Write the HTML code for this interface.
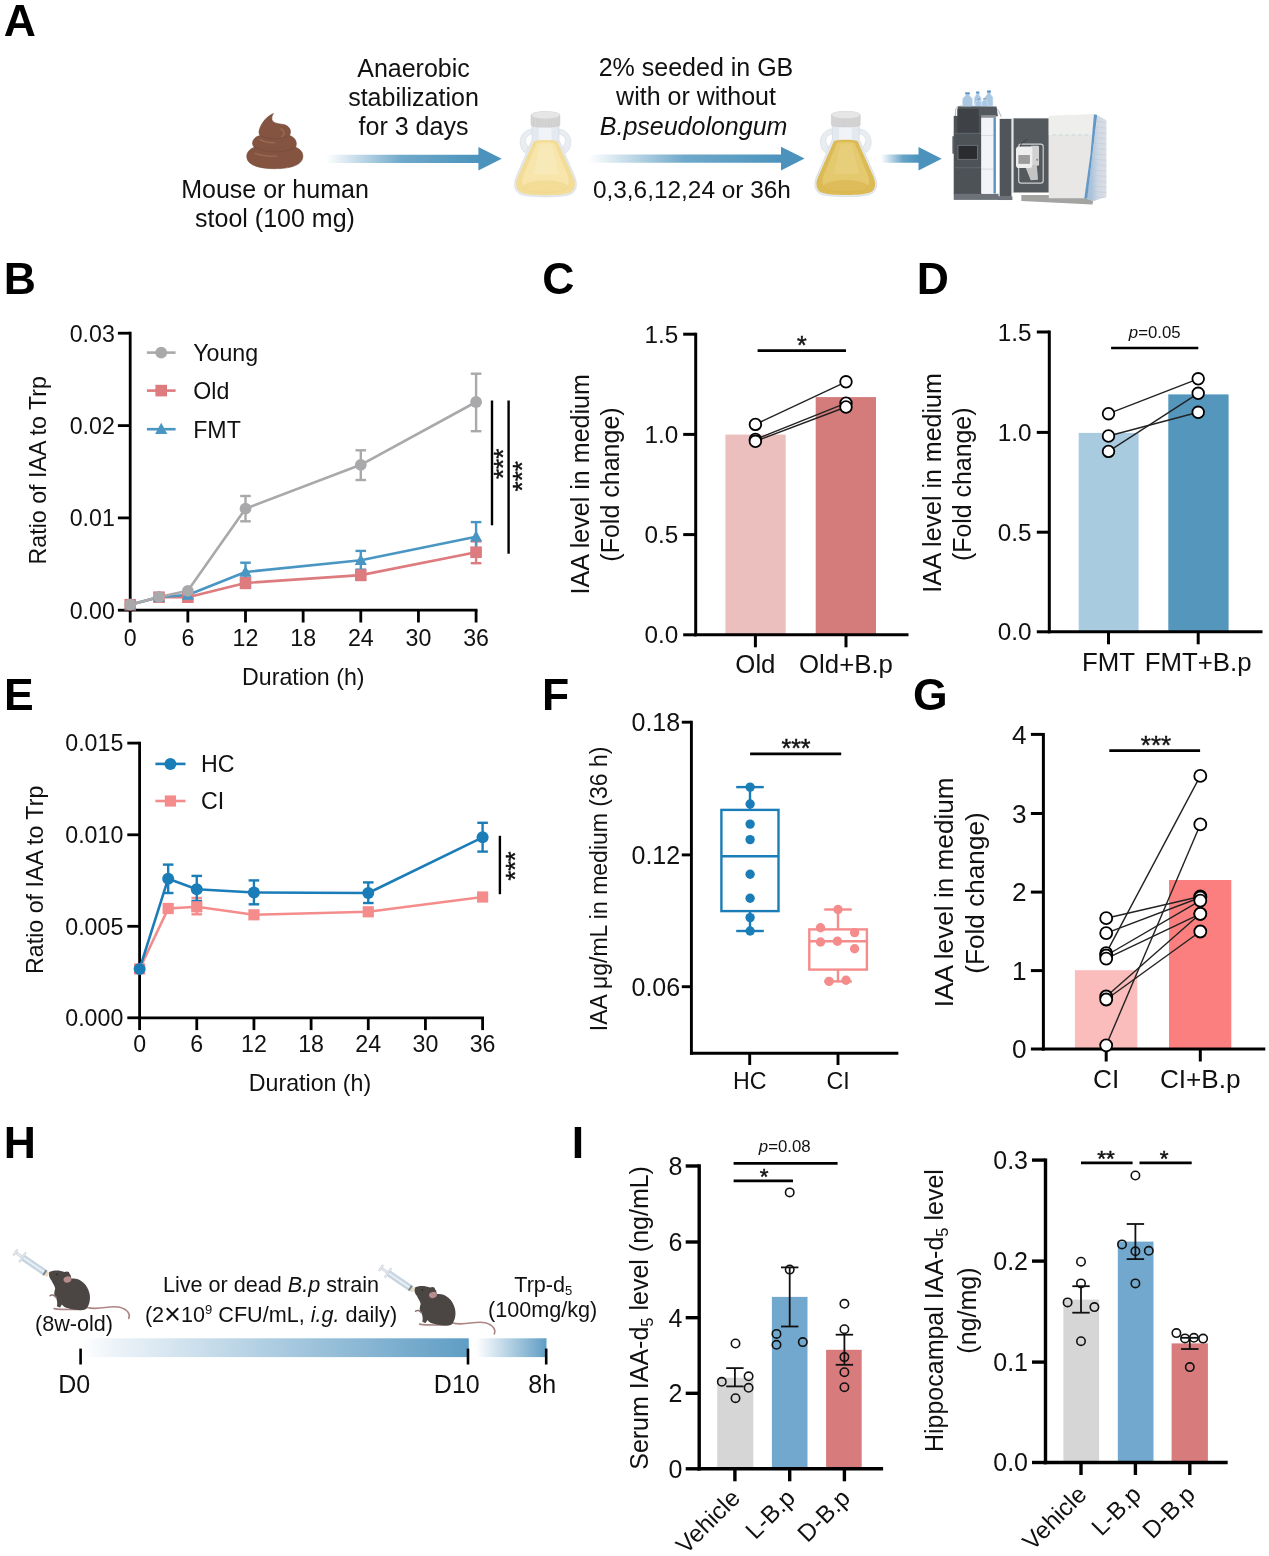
<!DOCTYPE html>
<html><head><meta charset="utf-8"><title>Figure</title>
<style>html,body{margin:0;padding:0;background:#fff}svg{display:block}text{font-family:"Liberation Sans",Arial,sans-serif}</style>
</head><body>
<svg width="1269" height="1556" viewBox="0 0 1269 1556">
<rect width="1269" height="1556" fill="#fff"/>
<defs>
<linearGradient id="garrow" x1="0" x2="1" y1="0" y2="0"><stop offset="0" stop-color="#4b93bd" stop-opacity="0"/><stop offset="0.55" stop-color="#4b93bd" stop-opacity="0.85"/><stop offset="1" stop-color="#4b93bd"/></linearGradient>
<linearGradient id="gbar" x1="0" x2="1" y1="0" y2="0"><stop offset="0" stop-color="#ffffff"/><stop offset="1" stop-color="#5e9cc2"/></linearGradient>
</defs>
<text x="3.8" y="35.5" font-size="44.5" text-anchor="start" font-weight="bold" font-style="normal" fill="#000" >A</text>
<text x="3.8" y="294.4" font-size="44.5" text-anchor="start" font-weight="bold" font-style="normal" fill="#000" >B</text>
<text x="542.2" y="294.4" font-size="44.5" text-anchor="start" font-weight="bold" font-style="normal" fill="#000" >C</text>
<text x="916.7" y="294.2" font-size="44.5" text-anchor="start" font-weight="bold" font-style="normal" fill="#000" >D</text>
<text x="4.1" y="710" font-size="44.5" text-anchor="start" font-weight="bold" font-style="normal" fill="#000" >E</text>
<text x="542.1" y="710" font-size="44.5" text-anchor="start" font-weight="bold" font-style="normal" fill="#000" >F</text>
<text x="913" y="710" font-size="44.5" text-anchor="start" font-weight="bold" font-style="normal" fill="#000" >G</text>
<text x="3.8" y="1158" font-size="44.5" text-anchor="start" font-weight="bold" font-style="normal" fill="#000" >H</text>
<text x="571.8" y="1158" font-size="44.5" text-anchor="start" font-weight="bold" font-style="normal" fill="#000" >I</text>
<line x1="130.2" y1="331.8" x2="130.2" y2="611.6" stroke="#000" stroke-width="2.8" stroke-linecap="butt"/>
<line x1="128.79999999999998" y1="610.2" x2="477.5" y2="610.2" stroke="#000" stroke-width="2.8" stroke-linecap="butt"/>
<line x1="117.89999999999999" y1="610.2" x2="130.2" y2="610.2" stroke="#000" stroke-width="2.8" stroke-linecap="butt"/>
<text x="114.79999999999998" y="618.5056000000001" font-size="23.2" text-anchor="end" font-weight="normal" font-style="normal" fill="#111" >0.00</text>
<line x1="117.89999999999999" y1="517.9" x2="130.2" y2="517.9" stroke="#000" stroke-width="2.8" stroke-linecap="butt"/>
<text x="114.79999999999998" y="526.2056" font-size="23.2" text-anchor="end" font-weight="normal" font-style="normal" fill="#111" >0.01</text>
<line x1="117.89999999999999" y1="425.6" x2="130.2" y2="425.6" stroke="#000" stroke-width="2.8" stroke-linecap="butt"/>
<text x="114.79999999999998" y="433.90560000000005" font-size="23.2" text-anchor="end" font-weight="normal" font-style="normal" fill="#111" >0.02</text>
<line x1="117.89999999999999" y1="333.2" x2="130.2" y2="333.2" stroke="#000" stroke-width="2.8" stroke-linecap="butt"/>
<text x="114.79999999999998" y="341.5056" font-size="23.2" text-anchor="end" font-weight="normal" font-style="normal" fill="#111" >0.03</text>
<line x1="130.2" y1="610.2" x2="130.2" y2="622.5" stroke="#000" stroke-width="2.8" stroke-linecap="butt"/>
<text x="130.2" y="646.3" font-size="23.2" text-anchor="middle" font-weight="normal" font-style="normal" fill="#111" >0</text>
<line x1="187.84799999999998" y1="610.2" x2="187.84799999999998" y2="622.5" stroke="#000" stroke-width="2.8" stroke-linecap="butt"/>
<text x="187.84799999999998" y="646.3" font-size="23.2" text-anchor="middle" font-weight="normal" font-style="normal" fill="#111" >6</text>
<line x1="245.49599999999998" y1="610.2" x2="245.49599999999998" y2="622.5" stroke="#000" stroke-width="2.8" stroke-linecap="butt"/>
<text x="245.49599999999998" y="646.3" font-size="23.2" text-anchor="middle" font-weight="normal" font-style="normal" fill="#111" >12</text>
<line x1="303.144" y1="610.2" x2="303.144" y2="622.5" stroke="#000" stroke-width="2.8" stroke-linecap="butt"/>
<text x="303.144" y="646.3" font-size="23.2" text-anchor="middle" font-weight="normal" font-style="normal" fill="#111" >18</text>
<line x1="360.79200000000003" y1="610.2" x2="360.79200000000003" y2="622.5" stroke="#000" stroke-width="2.8" stroke-linecap="butt"/>
<text x="360.79200000000003" y="646.3" font-size="23.2" text-anchor="middle" font-weight="normal" font-style="normal" fill="#111" >24</text>
<line x1="418.44" y1="610.2" x2="418.44" y2="622.5" stroke="#000" stroke-width="2.8" stroke-linecap="butt"/>
<text x="418.44" y="646.3" font-size="23.2" text-anchor="middle" font-weight="normal" font-style="normal" fill="#111" >30</text>
<line x1="476.088" y1="610.2" x2="476.088" y2="622.5" stroke="#000" stroke-width="2.8" stroke-linecap="butt"/>
<text x="476.088" y="646.3" font-size="23.2" text-anchor="middle" font-weight="normal" font-style="normal" fill="#111" >36</text>
<text x="303.3" y="684.5" font-size="23.2" text-anchor="middle" font-weight="normal" font-style="normal" fill="#111" >Duration (h)</text>
<text x="46.2" y="470.3" font-size="23.2" text-anchor="middle" font-weight="normal" font-style="normal" fill="#111" transform="rotate(-90 46.2 470.3)" >Ratio of IAA to Trp</text>
<line x1="245.49599999999998" y1="578" x2="245.49599999999998" y2="588" stroke="#dd7b7f" stroke-width="2.4" stroke-linecap="butt"/>
<line x1="240.19599999999997" y1="578" x2="250.796" y2="578" stroke="#dd7b7f" stroke-width="2.4" stroke-linecap="butt"/>
<line x1="240.19599999999997" y1="588" x2="250.796" y2="588" stroke="#dd7b7f" stroke-width="2.4" stroke-linecap="butt"/>
<line x1="360.79200000000003" y1="570" x2="360.79200000000003" y2="580" stroke="#dd7b7f" stroke-width="2.4" stroke-linecap="butt"/>
<line x1="355.492" y1="570" x2="366.09200000000004" y2="570" stroke="#dd7b7f" stroke-width="2.4" stroke-linecap="butt"/>
<line x1="355.492" y1="580" x2="366.09200000000004" y2="580" stroke="#dd7b7f" stroke-width="2.4" stroke-linecap="butt"/>
<line x1="476.088" y1="541.4" x2="476.088" y2="563.2" stroke="#dd7b7f" stroke-width="2.4" stroke-linecap="butt"/>
<line x1="470.788" y1="541.4" x2="481.38800000000003" y2="541.4" stroke="#dd7b7f" stroke-width="2.4" stroke-linecap="butt"/>
<line x1="470.788" y1="563.2" x2="481.38800000000003" y2="563.2" stroke="#dd7b7f" stroke-width="2.4" stroke-linecap="butt"/>
<line x1="245.49599999999998" y1="562.7" x2="245.49599999999998" y2="581.3" stroke="#4a96c3" stroke-width="2.4" stroke-linecap="butt"/>
<line x1="240.19599999999997" y1="562.7" x2="250.796" y2="562.7" stroke="#4a96c3" stroke-width="2.4" stroke-linecap="butt"/>
<line x1="240.19599999999997" y1="581.3" x2="250.796" y2="581.3" stroke="#4a96c3" stroke-width="2.4" stroke-linecap="butt"/>
<line x1="360.79200000000003" y1="550.9" x2="360.79200000000003" y2="569.7" stroke="#4a96c3" stroke-width="2.4" stroke-linecap="butt"/>
<line x1="355.492" y1="550.9" x2="366.09200000000004" y2="550.9" stroke="#4a96c3" stroke-width="2.4" stroke-linecap="butt"/>
<line x1="355.492" y1="569.7" x2="366.09200000000004" y2="569.7" stroke="#4a96c3" stroke-width="2.4" stroke-linecap="butt"/>
<line x1="476.088" y1="522.1" x2="476.088" y2="551.3" stroke="#4a96c3" stroke-width="2.4" stroke-linecap="butt"/>
<line x1="470.788" y1="522.1" x2="481.38800000000003" y2="522.1" stroke="#4a96c3" stroke-width="2.4" stroke-linecap="butt"/>
<line x1="470.788" y1="551.3" x2="481.38800000000003" y2="551.3" stroke="#4a96c3" stroke-width="2.4" stroke-linecap="butt"/>
<line x1="245.49599999999998" y1="496" x2="245.49599999999998" y2="521.3" stroke="#a9a9ab" stroke-width="2.4" stroke-linecap="butt"/>
<line x1="240.19599999999997" y1="496" x2="250.796" y2="496" stroke="#a9a9ab" stroke-width="2.4" stroke-linecap="butt"/>
<line x1="240.19599999999997" y1="521.3" x2="250.796" y2="521.3" stroke="#a9a9ab" stroke-width="2.4" stroke-linecap="butt"/>
<line x1="360.79200000000003" y1="450.3" x2="360.79200000000003" y2="480" stroke="#a9a9ab" stroke-width="2.4" stroke-linecap="butt"/>
<line x1="355.492" y1="450.3" x2="366.09200000000004" y2="450.3" stroke="#a9a9ab" stroke-width="2.4" stroke-linecap="butt"/>
<line x1="355.492" y1="480" x2="366.09200000000004" y2="480" stroke="#a9a9ab" stroke-width="2.4" stroke-linecap="butt"/>
<line x1="476.088" y1="373.7" x2="476.088" y2="431.2" stroke="#a9a9ab" stroke-width="2.4" stroke-linecap="butt"/>
<line x1="470.788" y1="373.7" x2="481.38800000000003" y2="373.7" stroke="#a9a9ab" stroke-width="2.4" stroke-linecap="butt"/>
<line x1="470.788" y1="431.2" x2="481.38800000000003" y2="431.2" stroke="#a9a9ab" stroke-width="2.4" stroke-linecap="butt"/>
<polyline points="130.2,604.7 159.0,597.2 187.8,597.2 245.5,583 360.8,575.1 476.1,552.2" fill="none" stroke="#dd7b7f" stroke-width="2.6" stroke-linejoin="round"/>
<polyline points="130.2,604.7 159.0,596.9 187.8,595 245.5,572 360.8,560.3 476.1,536.7" fill="none" stroke="#4a96c3" stroke-width="2.6" stroke-linejoin="round"/>
<polyline points="130.2,604.7 159.0,596.9 187.8,590.8 245.5,508.7 360.8,464.8 476.1,402" fill="none" stroke="#a9a9ab" stroke-width="2.6" stroke-linejoin="round"/>
<rect x="124.39999999999999" y="598.9000000000001" width="11.6" height="11.6" fill="#dd7b7f" stroke="none" stroke-width="0" rx="0"/>
<rect x="153.224" y="591.4000000000001" width="11.6" height="11.6" fill="#dd7b7f" stroke="none" stroke-width="0" rx="0"/>
<rect x="182.04799999999997" y="591.4000000000001" width="11.6" height="11.6" fill="#dd7b7f" stroke="none" stroke-width="0" rx="0"/>
<rect x="239.69599999999997" y="577.2" width="11.6" height="11.6" fill="#dd7b7f" stroke="none" stroke-width="0" rx="0"/>
<rect x="354.992" y="569.3000000000001" width="11.6" height="11.6" fill="#dd7b7f" stroke="none" stroke-width="0" rx="0"/>
<rect x="470.288" y="546.4000000000001" width="11.6" height="11.6" fill="#dd7b7f" stroke="none" stroke-width="0" rx="0"/>
<polygon points="130.2,598.3000000000001 124.11999999999999,609.5 136.28,609.5" fill="#4a96c3"/>
<polygon points="159.024,590.5 152.944,601.6999999999999 165.104,601.6999999999999" fill="#4a96c3"/>
<polygon points="187.84799999999998,588.6 181.76799999999997,599.8 193.928,599.8" fill="#4a96c3"/>
<polygon points="245.49599999999998,565.6 239.41599999999997,576.8 251.576,576.8" fill="#4a96c3"/>
<polygon points="360.79200000000003,553.9 354.71200000000005,565.0999999999999 366.872,565.0999999999999" fill="#4a96c3"/>
<polygon points="476.088,530.3000000000001 470.00800000000004,541.5 482.168,541.5" fill="#4a96c3"/>
<circle cx="130.2" cy="604.7" r="5.9" fill="#a9a9ab" stroke="none" stroke-width="0"/>
<circle cx="159.024" cy="596.9" r="5.9" fill="#a9a9ab" stroke="none" stroke-width="0"/>
<circle cx="187.84799999999998" cy="590.8" r="5.9" fill="#a9a9ab" stroke="none" stroke-width="0"/>
<circle cx="245.49599999999998" cy="508.7" r="5.9" fill="#a9a9ab" stroke="none" stroke-width="0"/>
<circle cx="360.79200000000003" cy="464.8" r="5.9" fill="#a9a9ab" stroke="none" stroke-width="0"/>
<circle cx="476.088" cy="402" r="5.9" fill="#a9a9ab" stroke="none" stroke-width="0"/>
<line x1="146.9" y1="352.6" x2="175.6" y2="352.6" stroke="#a9a9ab" stroke-width="2.6" stroke-linecap="butt"/>
<circle cx="161.2" cy="352.6" r="5.9" fill="#a9a9ab" stroke="none" stroke-width="0"/>
<text x="193.2" y="360.90000000000003" font-size="23.2" text-anchor="start" font-weight="normal" font-style="normal" fill="#111" >Young</text>
<line x1="146.9" y1="390.6" x2="175.6" y2="390.6" stroke="#dd7b7f" stroke-width="2.6" stroke-linecap="butt"/>
<rect x="155.39999999999998" y="384.8" width="11.6" height="11.6" fill="#dd7b7f" stroke="none" stroke-width="0" rx="0"/>
<text x="193.2" y="398.90000000000003" font-size="23.2" text-anchor="start" font-weight="normal" font-style="normal" fill="#111" >Old</text>
<line x1="146.9" y1="429.2" x2="175.6" y2="429.2" stroke="#4a96c3" stroke-width="2.6" stroke-linecap="butt"/>
<polygon points="161.2,422.8 155.11999999999998,434.0 167.28,434.0" fill="#4a96c3"/>
<text x="193.2" y="437.5" font-size="23.2" text-anchor="start" font-weight="normal" font-style="normal" fill="#111" >FMT</text>
<line x1="492" y1="400.5" x2="492" y2="525.3" stroke="#000" stroke-width="2.4" stroke-linecap="butt"/>
<line x1="508.6" y1="400.5" x2="508.6" y2="553.7" stroke="#000" stroke-width="2.4" stroke-linecap="butt"/>
<text x="512.5" y="463.9" font-size="26" text-anchor="middle" fill="#111" stroke="#111" stroke-width="0.45" transform="rotate(-90 512.5 463.9)">***</text>
<text x="531.5" y="476.2" font-size="26" text-anchor="middle" fill="#111" stroke="#111" stroke-width="0.45" transform="rotate(-90 531.5 476.2)">***</text>
<rect x="725.4" y="434.6" width="60.30000000000007" height="200.19999999999993" fill="#ebbfbd" stroke="none" stroke-width="0" rx="0"/>
<rect x="815.7" y="397.1" width="60.299999999999955" height="237.69999999999993" fill="#d47b7b" stroke="none" stroke-width="0" rx="0"/>
<line x1="695.7" y1="332.7" x2="695.7" y2="636.3" stroke="#000" stroke-width="3.0" stroke-linecap="butt"/>
<line x1="694.2" y1="634.8" x2="908.5" y2="634.8" stroke="#000" stroke-width="3.0" stroke-linecap="butt"/>
<line x1="683.2" y1="634.8" x2="695.7" y2="634.8" stroke="#000" stroke-width="3.0" stroke-linecap="butt"/>
<text x="678.3000000000001" y="643.4993999999999" font-size="24.3" text-anchor="end" font-weight="normal" font-style="normal" fill="#111" >0.0</text>
<line x1="683.2" y1="534.6" x2="695.7" y2="534.6" stroke="#000" stroke-width="3.0" stroke-linecap="butt"/>
<text x="678.3000000000001" y="543.2994" font-size="24.3" text-anchor="end" font-weight="normal" font-style="normal" fill="#111" >0.5</text>
<line x1="683.2" y1="434.4" x2="695.7" y2="434.4" stroke="#000" stroke-width="3.0" stroke-linecap="butt"/>
<text x="678.3000000000001" y="443.0994" font-size="24.3" text-anchor="end" font-weight="normal" font-style="normal" fill="#111" >1.0</text>
<line x1="683.2" y1="334.2" x2="695.7" y2="334.2" stroke="#000" stroke-width="3.0" stroke-linecap="butt"/>
<text x="678.3000000000001" y="342.8994" font-size="24.3" text-anchor="end" font-weight="normal" font-style="normal" fill="#111" >1.5</text>
<line x1="755.4" y1="634.8" x2="755.4" y2="647.3" stroke="#000" stroke-width="3.0" stroke-linecap="butt"/>
<text x="755.4" y="673.3" font-size="25.8" text-anchor="middle" font-weight="normal" font-style="normal" fill="#111" >Old</text>
<line x1="846" y1="634.8" x2="846" y2="647.3" stroke="#000" stroke-width="3.0" stroke-linecap="butt"/>
<text x="846" y="673.3" font-size="25.8" text-anchor="middle" font-weight="normal" font-style="normal" fill="#111" >Old+B.p</text>
<text x="588.6" y="484.2" font-size="25.1" text-anchor="middle" font-weight="normal" font-style="normal" fill="#111" transform="rotate(-90 588.6 484.2)" >IAA level in medium</text>
<text x="619" y="484.5" font-size="25.0" text-anchor="middle" font-weight="normal" font-style="normal" fill="#111" transform="rotate(-90 619 484.5)" >(Fold change)</text>
<line x1="755.4" y1="424.4" x2="846" y2="381.8" stroke="#222" stroke-width="1.4" stroke-linecap="butt"/>
<line x1="755.4" y1="439.4" x2="846" y2="403.2" stroke="#222" stroke-width="1.4" stroke-linecap="butt"/>
<line x1="755.4" y1="441.3" x2="846" y2="407" stroke="#222" stroke-width="1.4" stroke-linecap="butt"/>
<circle cx="755.4" cy="424.4" r="5.8" fill="#fff" stroke="#000" stroke-width="1.8"/>
<circle cx="846" cy="381.8" r="5.8" fill="#fff" stroke="#000" stroke-width="1.8"/>
<circle cx="755.4" cy="439.4" r="5.8" fill="#fff" stroke="#000" stroke-width="1.8"/>
<circle cx="846" cy="403.2" r="5.8" fill="#fff" stroke="#000" stroke-width="1.8"/>
<circle cx="755.4" cy="441.3" r="5.8" fill="#fff" stroke="#000" stroke-width="1.8"/>
<circle cx="846" cy="407" r="5.8" fill="#fff" stroke="#000" stroke-width="1.8"/>
<line x1="757.6" y1="350.7" x2="846" y2="350.7" stroke="#000" stroke-width="2.7" stroke-linecap="butt"/>
<text x="801.8" y="353.7" font-size="25" text-anchor="middle" fill="#111" stroke="#111" stroke-width="0.45">*</text>
<rect x="1078.7" y="432.9" width="59.899999999999864" height="198.89999999999998" fill="#a9cbdf" stroke="none" stroke-width="0" rx="0"/>
<rect x="1168.3" y="394.4" width="60.299999999999955" height="237.39999999999998" fill="#5596bd" stroke="none" stroke-width="0" rx="0"/>
<line x1="1049.3" y1="330.5" x2="1049.3" y2="633.3" stroke="#000" stroke-width="3.0" stroke-linecap="butt"/>
<line x1="1047.8" y1="631.8" x2="1262.5" y2="631.8" stroke="#000" stroke-width="3.0" stroke-linecap="butt"/>
<line x1="1036.8" y1="631.8" x2="1049.3" y2="631.8" stroke="#000" stroke-width="3.0" stroke-linecap="butt"/>
<text x="1031.6" y="640.4993999999999" font-size="24.3" text-anchor="end" font-weight="normal" font-style="normal" fill="#111" >0.0</text>
<line x1="1036.8" y1="532.2" x2="1049.3" y2="532.2" stroke="#000" stroke-width="3.0" stroke-linecap="butt"/>
<text x="1031.6" y="540.8994" font-size="24.3" text-anchor="end" font-weight="normal" font-style="normal" fill="#111" >0.5</text>
<line x1="1036.8" y1="432.4" x2="1049.3" y2="432.4" stroke="#000" stroke-width="3.0" stroke-linecap="butt"/>
<text x="1031.6" y="441.0994" font-size="24.3" text-anchor="end" font-weight="normal" font-style="normal" fill="#111" >1.0</text>
<line x1="1036.8" y1="332" x2="1049.3" y2="332" stroke="#000" stroke-width="3.0" stroke-linecap="butt"/>
<text x="1031.6" y="340.6994" font-size="24.3" text-anchor="end" font-weight="normal" font-style="normal" fill="#111" >1.5</text>
<line x1="1108.5" y1="631.8" x2="1108.5" y2="644.3" stroke="#000" stroke-width="3.0" stroke-linecap="butt"/>
<text x="1108.5" y="670.5" font-size="25.8" text-anchor="middle" font-weight="normal" font-style="normal" fill="#111" >FMT</text>
<line x1="1198.2" y1="631.8" x2="1198.2" y2="644.3" stroke="#000" stroke-width="3.0" stroke-linecap="butt"/>
<text x="1198.2" y="670.5" font-size="25.8" text-anchor="middle" font-weight="normal" font-style="normal" fill="#111" >FMT+B.p</text>
<text x="940.7" y="483" font-size="25.0" text-anchor="middle" font-weight="normal" font-style="normal" fill="#111" transform="rotate(-90 940.7 483)" >IAA level in medium</text>
<text x="971.3" y="484.3" font-size="24.9" text-anchor="middle" font-weight="normal" font-style="normal" fill="#111" transform="rotate(-90 971.3 484.3)" >(Fold change)</text>
<line x1="1108.5" y1="413.7" x2="1198.2" y2="378.8" stroke="#222" stroke-width="1.4" stroke-linecap="butt"/>
<line x1="1108.5" y1="436" x2="1198.2" y2="412.3" stroke="#222" stroke-width="1.4" stroke-linecap="butt"/>
<line x1="1108.5" y1="451.4" x2="1198.2" y2="393.3" stroke="#222" stroke-width="1.4" stroke-linecap="butt"/>
<circle cx="1108.5" cy="413.7" r="5.8" fill="#fff" stroke="#000" stroke-width="1.8"/>
<circle cx="1198.2" cy="378.8" r="5.8" fill="#fff" stroke="#000" stroke-width="1.8"/>
<circle cx="1108.5" cy="436" r="5.8" fill="#fff" stroke="#000" stroke-width="1.8"/>
<circle cx="1198.2" cy="412.3" r="5.8" fill="#fff" stroke="#000" stroke-width="1.8"/>
<circle cx="1108.5" cy="451.4" r="5.8" fill="#fff" stroke="#000" stroke-width="1.8"/>
<circle cx="1198.2" cy="393.3" r="5.8" fill="#fff" stroke="#000" stroke-width="1.8"/>
<line x1="1111.1" y1="348" x2="1198.3" y2="348" stroke="#000" stroke-width="2.7" stroke-linecap="butt"/>
<text x="1154.7" y="337.5" font-size="16.8" text-anchor="middle" fill="#111"><tspan font-style="italic">p</tspan>=0.05</text>
<line x1="139.6" y1="741.7" x2="139.6" y2="1019.1999999999999" stroke="#000" stroke-width="2.8" stroke-linecap="butt"/>
<line x1="138.2" y1="1017.8" x2="484.0" y2="1017.8" stroke="#000" stroke-width="2.8" stroke-linecap="butt"/>
<line x1="127.3" y1="1017.8" x2="139.6" y2="1017.8" stroke="#000" stroke-width="2.8" stroke-linecap="butt"/>
<text x="123.3" y="1026.1055999999999" font-size="23.2" text-anchor="end" font-weight="normal" font-style="normal" fill="#111" >0.000</text>
<line x1="127.3" y1="926.3" x2="139.6" y2="926.3" stroke="#000" stroke-width="2.8" stroke-linecap="butt"/>
<text x="123.3" y="934.6056" font-size="23.2" text-anchor="end" font-weight="normal" font-style="normal" fill="#111" >0.005</text>
<line x1="127.3" y1="834.8" x2="139.6" y2="834.8" stroke="#000" stroke-width="2.8" stroke-linecap="butt"/>
<text x="123.3" y="843.1056" font-size="23.2" text-anchor="end" font-weight="normal" font-style="normal" fill="#111" >0.010</text>
<line x1="127.3" y1="743.1" x2="139.6" y2="743.1" stroke="#000" stroke-width="2.8" stroke-linecap="butt"/>
<text x="123.3" y="751.4056" font-size="23.2" text-anchor="end" font-weight="normal" font-style="normal" fill="#111" >0.015</text>
<line x1="139.6" y1="1017.8" x2="139.6" y2="1030.1" stroke="#000" stroke-width="2.8" stroke-linecap="butt"/>
<text x="139.6" y="1052.2" font-size="23.2" text-anchor="middle" font-weight="normal" font-style="normal" fill="#111" >0</text>
<line x1="196.76666666666665" y1="1017.8" x2="196.76666666666665" y2="1030.1" stroke="#000" stroke-width="2.8" stroke-linecap="butt"/>
<text x="196.76666666666665" y="1052.2" font-size="23.2" text-anchor="middle" font-weight="normal" font-style="normal" fill="#111" >6</text>
<line x1="253.93333333333334" y1="1017.8" x2="253.93333333333334" y2="1030.1" stroke="#000" stroke-width="2.8" stroke-linecap="butt"/>
<text x="253.93333333333334" y="1052.2" font-size="23.2" text-anchor="middle" font-weight="normal" font-style="normal" fill="#111" >12</text>
<line x1="311.1" y1="1017.8" x2="311.1" y2="1030.1" stroke="#000" stroke-width="2.8" stroke-linecap="butt"/>
<text x="311.1" y="1052.2" font-size="23.2" text-anchor="middle" font-weight="normal" font-style="normal" fill="#111" >18</text>
<line x1="368.26666666666665" y1="1017.8" x2="368.26666666666665" y2="1030.1" stroke="#000" stroke-width="2.8" stroke-linecap="butt"/>
<text x="368.26666666666665" y="1052.2" font-size="23.2" text-anchor="middle" font-weight="normal" font-style="normal" fill="#111" >24</text>
<line x1="425.4333333333333" y1="1017.8" x2="425.4333333333333" y2="1030.1" stroke="#000" stroke-width="2.8" stroke-linecap="butt"/>
<text x="425.4333333333333" y="1052.2" font-size="23.2" text-anchor="middle" font-weight="normal" font-style="normal" fill="#111" >30</text>
<line x1="482.6" y1="1017.8" x2="482.6" y2="1030.1" stroke="#000" stroke-width="2.8" stroke-linecap="butt"/>
<text x="482.6" y="1052.2" font-size="23.2" text-anchor="middle" font-weight="normal" font-style="normal" fill="#111" >36</text>
<text x="310" y="1091" font-size="23.2" text-anchor="middle" font-weight="normal" font-style="normal" fill="#111" >Duration (h)</text>
<text x="43.3" y="879.8" font-size="23.2" text-anchor="middle" font-weight="normal" font-style="normal" fill="#111" transform="rotate(-90 43.3 879.8)" >Ratio of IAA to Trp</text>
<line x1="196.76666666666665" y1="898" x2="196.76666666666665" y2="914.3" stroke="#f58c8c" stroke-width="2.4" stroke-linecap="butt"/>
<line x1="191.46666666666664" y1="898" x2="202.06666666666666" y2="898" stroke="#f58c8c" stroke-width="2.4" stroke-linecap="butt"/>
<line x1="191.46666666666664" y1="914.3" x2="202.06666666666666" y2="914.3" stroke="#f58c8c" stroke-width="2.4" stroke-linecap="butt"/>
<line x1="168.18333333333334" y1="864.6" x2="168.18333333333334" y2="893" stroke="#1b7db8" stroke-width="2.4" stroke-linecap="butt"/>
<line x1="162.88333333333333" y1="864.6" x2="173.48333333333335" y2="864.6" stroke="#1b7db8" stroke-width="2.4" stroke-linecap="butt"/>
<line x1="162.88333333333333" y1="893" x2="173.48333333333335" y2="893" stroke="#1b7db8" stroke-width="2.4" stroke-linecap="butt"/>
<line x1="196.76666666666665" y1="875.9" x2="196.76666666666665" y2="901" stroke="#1b7db8" stroke-width="2.4" stroke-linecap="butt"/>
<line x1="191.46666666666664" y1="875.9" x2="202.06666666666666" y2="875.9" stroke="#1b7db8" stroke-width="2.4" stroke-linecap="butt"/>
<line x1="191.46666666666664" y1="901" x2="202.06666666666666" y2="901" stroke="#1b7db8" stroke-width="2.4" stroke-linecap="butt"/>
<line x1="253.93333333333334" y1="880.4" x2="253.93333333333334" y2="904.3" stroke="#1b7db8" stroke-width="2.4" stroke-linecap="butt"/>
<line x1="248.63333333333333" y1="880.4" x2="259.23333333333335" y2="880.4" stroke="#1b7db8" stroke-width="2.4" stroke-linecap="butt"/>
<line x1="248.63333333333333" y1="904.3" x2="259.23333333333335" y2="904.3" stroke="#1b7db8" stroke-width="2.4" stroke-linecap="butt"/>
<line x1="368.26666666666665" y1="882.4" x2="368.26666666666665" y2="903" stroke="#1b7db8" stroke-width="2.4" stroke-linecap="butt"/>
<line x1="362.96666666666664" y1="882.4" x2="373.56666666666666" y2="882.4" stroke="#1b7db8" stroke-width="2.4" stroke-linecap="butt"/>
<line x1="362.96666666666664" y1="903" x2="373.56666666666666" y2="903" stroke="#1b7db8" stroke-width="2.4" stroke-linecap="butt"/>
<line x1="482.6" y1="822.8" x2="482.6" y2="851.6" stroke="#1b7db8" stroke-width="2.4" stroke-linecap="butt"/>
<line x1="477.3" y1="822.8" x2="487.90000000000003" y2="822.8" stroke="#1b7db8" stroke-width="2.4" stroke-linecap="butt"/>
<line x1="477.3" y1="851.6" x2="487.90000000000003" y2="851.6" stroke="#1b7db8" stroke-width="2.4" stroke-linecap="butt"/>
<polyline points="139.6,968.9 168.18333333333334,908.5 196.76666666666665,906.8 253.93333333333334,914.8 368.26666666666665,911.8 482.6,897" fill="none" stroke="#f58c8c" stroke-width="2.6" stroke-linejoin="round"/>
<polyline points="139.6,968.9 168.18333333333334,878.7 196.76666666666665,889.2 253.93333333333334,892.5 368.26666666666665,893 482.6,837.3" fill="none" stroke="#1b7db8" stroke-width="2.6" stroke-linejoin="round"/>
<rect x="134.0" y="963.3" width="11.2" height="11.2" fill="#f58c8c" stroke="none" stroke-width="0" rx="0"/>
<rect x="162.58333333333334" y="902.9" width="11.2" height="11.2" fill="#f58c8c" stroke="none" stroke-width="0" rx="0"/>
<rect x="191.16666666666666" y="901.1999999999999" width="11.2" height="11.2" fill="#f58c8c" stroke="none" stroke-width="0" rx="0"/>
<rect x="248.33333333333334" y="909.1999999999999" width="11.2" height="11.2" fill="#f58c8c" stroke="none" stroke-width="0" rx="0"/>
<rect x="362.66666666666663" y="906.1999999999999" width="11.2" height="11.2" fill="#f58c8c" stroke="none" stroke-width="0" rx="0"/>
<rect x="477.0" y="891.4" width="11.2" height="11.2" fill="#f58c8c" stroke="none" stroke-width="0" rx="0"/>
<circle cx="139.6" cy="968.9" r="6.0" fill="#1b7db8" stroke="none" stroke-width="0"/>
<circle cx="168.18333333333334" cy="878.7" r="6.0" fill="#1b7db8" stroke="none" stroke-width="0"/>
<circle cx="196.76666666666665" cy="889.2" r="6.0" fill="#1b7db8" stroke="none" stroke-width="0"/>
<circle cx="253.93333333333334" cy="892.5" r="6.0" fill="#1b7db8" stroke="none" stroke-width="0"/>
<circle cx="368.26666666666665" cy="893" r="6.0" fill="#1b7db8" stroke="none" stroke-width="0"/>
<circle cx="482.6" cy="837.3" r="6.0" fill="#1b7db8" stroke="none" stroke-width="0"/>
<line x1="155.4" y1="763.9" x2="185.5" y2="763.9" stroke="#1b7db8" stroke-width="2.6" stroke-linecap="butt"/>
<circle cx="170.4" cy="763.9" r="6.0" fill="#1b7db8" stroke="none" stroke-width="0"/>
<text x="201" y="772.1999999999999" font-size="23.2" text-anchor="start" font-weight="normal" font-style="normal" fill="#111" >HC</text>
<line x1="155.4" y1="801" x2="185.5" y2="801" stroke="#f58c8c" stroke-width="2.6" stroke-linecap="butt"/>
<rect x="164.8" y="795.4" width="11.2" height="11.2" fill="#f58c8c" stroke="none" stroke-width="0" rx="0"/>
<text x="201" y="809.3" font-size="23.2" text-anchor="start" font-weight="normal" font-style="normal" fill="#111" >CI</text>
<line x1="499.9" y1="835.8" x2="499.9" y2="894.2" stroke="#000" stroke-width="2.4" stroke-linecap="butt"/>
<text x="524.4" y="866" font-size="25" text-anchor="middle" fill="#111" stroke="#111" stroke-width="0.45" transform="rotate(-90 524.4 866)">***</text>
<line x1="691.4" y1="720.75" x2="691.4" y2="1054.65" stroke="#000" stroke-width="2.9" stroke-linecap="butt"/>
<line x1="689.9499999999999" y1="1053.2" x2="898.35" y2="1053.2" stroke="#000" stroke-width="2.9" stroke-linecap="butt"/>
<line x1="681.8" y1="986.7" x2="691.4" y2="986.7" stroke="#000" stroke-width="2.9" stroke-linecap="butt"/>
<text x="680.1999999999999" y="995.6500000000001" font-size="25" text-anchor="end" font-weight="normal" font-style="normal" fill="#111" >0.06</text>
<line x1="681.8" y1="854.9" x2="691.4" y2="854.9" stroke="#000" stroke-width="2.9" stroke-linecap="butt"/>
<text x="680.1999999999999" y="863.85" font-size="25" text-anchor="end" font-weight="normal" font-style="normal" fill="#111" >0.12</text>
<line x1="681.8" y1="722.2" x2="691.4" y2="722.2" stroke="#000" stroke-width="2.9" stroke-linecap="butt"/>
<text x="680.1999999999999" y="731.1500000000001" font-size="25" text-anchor="end" font-weight="normal" font-style="normal" fill="#111" >0.18</text>
<line x1="749.7" y1="1053.2" x2="749.7" y2="1065.0" stroke="#000" stroke-width="2.9" stroke-linecap="butt"/>
<text x="749.7" y="1088.5" font-size="23.2" text-anchor="middle" font-weight="normal" font-style="normal" fill="#111" >HC</text>
<line x1="838" y1="1053.2" x2="838" y2="1065.0" stroke="#000" stroke-width="2.9" stroke-linecap="butt"/>
<text x="838" y="1088.5" font-size="23.2" text-anchor="middle" font-weight="normal" font-style="normal" fill="#111" >CI</text>
<text x="607.5" y="888.9" font-size="23" text-anchor="middle" font-weight="normal" font-style="normal" fill="#111" transform="rotate(-90 607.5 888.9)" >IAA μg/mL in medium (36 h)</text>
<line x1="750" y1="787.1" x2="750" y2="809.9" stroke="#1b7db8" stroke-width="2.4" stroke-linecap="butt"/>
<line x1="750" y1="911.1" x2="750" y2="931" stroke="#1b7db8" stroke-width="2.4" stroke-linecap="butt"/>
<line x1="736.2" y1="787.1" x2="763.8" y2="787.1" stroke="#1b7db8" stroke-width="2.4" stroke-linecap="butt"/>
<line x1="736.2" y1="931" x2="763.8" y2="931" stroke="#1b7db8" stroke-width="2.4" stroke-linecap="butt"/>
<rect x="721.4" y="809.9" width="57.10000000000002" height="101.20000000000005" fill="none" stroke="#1b7db8" stroke-width="2.4" rx="0"/>
<line x1="721.4" y1="856.2" x2="778.5" y2="856.2" stroke="#1b7db8" stroke-width="2.4" stroke-linecap="butt"/>
<circle cx="750.1" cy="787.1" r="4.7" fill="#1b7db8" stroke="none" stroke-width="0"/>
<circle cx="750.1" cy="804" r="4.7" fill="#1b7db8" stroke="none" stroke-width="0"/>
<circle cx="750.1" cy="824.1" r="4.7" fill="#1b7db8" stroke="none" stroke-width="0"/>
<circle cx="750.1" cy="839.6" r="4.7" fill="#1b7db8" stroke="none" stroke-width="0"/>
<circle cx="750.1" cy="874.2" r="4.7" fill="#1b7db8" stroke="none" stroke-width="0"/>
<circle cx="750.1" cy="898.3" r="4.7" fill="#1b7db8" stroke="none" stroke-width="0"/>
<circle cx="750.1" cy="917.6" r="4.7" fill="#1b7db8" stroke="none" stroke-width="0"/>
<circle cx="750.1" cy="931" r="4.7" fill="#1b7db8" stroke="none" stroke-width="0"/>
<line x1="838" y1="909.5" x2="838" y2="929.4" stroke="#f58c8c" stroke-width="2.4" stroke-linecap="butt"/>
<line x1="838" y1="969.6" x2="838" y2="981.4" stroke="#f58c8c" stroke-width="2.4" stroke-linecap="butt"/>
<line x1="824.2" y1="909.5" x2="851.8" y2="909.5" stroke="#f58c8c" stroke-width="2.4" stroke-linecap="butt"/>
<line x1="824.2" y1="981.4" x2="851.8" y2="981.4" stroke="#f58c8c" stroke-width="2.4" stroke-linecap="butt"/>
<rect x="809.3" y="929.4" width="57.60000000000002" height="40.200000000000045" fill="none" stroke="#f58c8c" stroke-width="2.4" rx="0"/>
<line x1="809.3" y1="941.2" x2="866.9" y2="941.2" stroke="#f58c8c" stroke-width="2.4" stroke-linecap="butt"/>
<circle cx="838" cy="909.5" r="4.7" fill="#f58c8c" stroke="none" stroke-width="0"/>
<circle cx="820.5" cy="927.8" r="4.7" fill="#f58c8c" stroke="none" stroke-width="0"/>
<circle cx="854.6" cy="932.6" r="4.7" fill="#f58c8c" stroke="none" stroke-width="0"/>
<circle cx="820.5" cy="942" r="4.7" fill="#f58c8c" stroke="none" stroke-width="0"/>
<circle cx="837.4" cy="941.2" r="4.7" fill="#f58c8c" stroke="none" stroke-width="0"/>
<circle cx="854.6" cy="948.7" r="4.7" fill="#f58c8c" stroke="none" stroke-width="0"/>
<circle cx="829.1" cy="981.4" r="4.7" fill="#f58c8c" stroke="none" stroke-width="0"/>
<circle cx="846" cy="980.3" r="4.7" fill="#f58c8c" stroke="none" stroke-width="0"/>
<line x1="750.1" y1="753.9" x2="841.2" y2="753.9" stroke="#000" stroke-width="2.7" stroke-linecap="butt"/>
<text x="796" y="757.1" font-size="25" text-anchor="middle" fill="#111" stroke="#111" stroke-width="0.45">***</text>
<rect x="1074.9" y="970.2" width="62.399999999999864" height="78.79999999999995" fill="#fbbcbc" stroke="none" stroke-width="0" rx="0"/>
<rect x="1169" y="880" width="62.299999999999955" height="169" fill="#fb7f7f" stroke="none" stroke-width="0" rx="0"/>
<line x1="1043.4" y1="732.9" x2="1043.4" y2="1050.5" stroke="#000" stroke-width="3.0" stroke-linecap="butt"/>
<line x1="1041.9" y1="1049" x2="1265.3" y2="1049" stroke="#000" stroke-width="3.0" stroke-linecap="butt"/>
<line x1="1030.9" y1="1049" x2="1043.4" y2="1049" stroke="#000" stroke-width="3.0" stroke-linecap="butt"/>
<text x="1026.6000000000001" y="1058.3796" font-size="26.2" text-anchor="end" font-weight="normal" font-style="normal" fill="#111" >0</text>
<line x1="1030.9" y1="970.6" x2="1043.4" y2="970.6" stroke="#000" stroke-width="3.0" stroke-linecap="butt"/>
<text x="1026.6000000000001" y="979.9796" font-size="26.2" text-anchor="end" font-weight="normal" font-style="normal" fill="#111" >1</text>
<line x1="1030.9" y1="892.1" x2="1043.4" y2="892.1" stroke="#000" stroke-width="3.0" stroke-linecap="butt"/>
<text x="1026.6000000000001" y="901.4796" font-size="26.2" text-anchor="end" font-weight="normal" font-style="normal" fill="#111" >2</text>
<line x1="1030.9" y1="813.5" x2="1043.4" y2="813.5" stroke="#000" stroke-width="3.0" stroke-linecap="butt"/>
<text x="1026.6000000000001" y="822.8796" font-size="26.2" text-anchor="end" font-weight="normal" font-style="normal" fill="#111" >3</text>
<line x1="1030.9" y1="734.4" x2="1043.4" y2="734.4" stroke="#000" stroke-width="3.0" stroke-linecap="butt"/>
<text x="1026.6000000000001" y="743.7796" font-size="26.2" text-anchor="end" font-weight="normal" font-style="normal" fill="#111" >4</text>
<line x1="1106.2" y1="1049" x2="1106.2" y2="1061.5" stroke="#000" stroke-width="3.0" stroke-linecap="butt"/>
<text x="1106.2" y="1087.5" font-size="26.2" text-anchor="middle" font-weight="normal" font-style="normal" fill="#111" >CI</text>
<line x1="1200.3" y1="1049" x2="1200.3" y2="1061.5" stroke="#000" stroke-width="3.0" stroke-linecap="butt"/>
<text x="1200.3" y="1087.5" font-size="26.2" text-anchor="middle" font-weight="normal" font-style="normal" fill="#111" >CI+B.p</text>
<text x="952.9" y="892.3" font-size="26.2" text-anchor="middle" font-weight="normal" font-style="normal" fill="#111" transform="rotate(-90 952.9 892.3)" >IAA level in medium</text>
<text x="984.1" y="893" font-size="26.2" text-anchor="middle" font-weight="normal" font-style="normal" fill="#111" transform="rotate(-90 984.1 893)" >(Fold change)</text>
<line x1="1106.2" y1="918.2" x2="1200.3" y2="896.5" stroke="#222" stroke-width="1.4" stroke-linecap="butt"/>
<line x1="1106.2" y1="933.1" x2="1200.3" y2="897.5" stroke="#222" stroke-width="1.4" stroke-linecap="butt"/>
<line x1="1106.2" y1="953.2" x2="1200.3" y2="775.9" stroke="#222" stroke-width="1.4" stroke-linecap="butt"/>
<line x1="1106.2" y1="955.5" x2="1200.3" y2="900.6" stroke="#222" stroke-width="1.4" stroke-linecap="butt"/>
<line x1="1106.2" y1="958.6" x2="1200.3" y2="913.8" stroke="#222" stroke-width="1.4" stroke-linecap="butt"/>
<line x1="1106.2" y1="996.5" x2="1200.3" y2="913.8" stroke="#222" stroke-width="1.4" stroke-linecap="butt"/>
<line x1="1106.2" y1="999.5" x2="1200.3" y2="931.5" stroke="#222" stroke-width="1.4" stroke-linecap="butt"/>
<line x1="1106.2" y1="1045.3" x2="1200.3" y2="824.4" stroke="#222" stroke-width="1.4" stroke-linecap="butt"/>
<circle cx="1106.2" cy="918.2" r="6" fill="#fff" stroke="#000" stroke-width="1.8"/>
<circle cx="1200.3" cy="896.5" r="6" fill="#fff" stroke="#000" stroke-width="1.8"/>
<circle cx="1106.2" cy="933.1" r="6" fill="#fff" stroke="#000" stroke-width="1.8"/>
<circle cx="1200.3" cy="897.5" r="6" fill="#fff" stroke="#000" stroke-width="1.8"/>
<circle cx="1106.2" cy="953.2" r="6" fill="#fff" stroke="#000" stroke-width="1.8"/>
<circle cx="1200.3" cy="775.9" r="6" fill="#fff" stroke="#000" stroke-width="1.8"/>
<circle cx="1106.2" cy="955.5" r="6" fill="#fff" stroke="#000" stroke-width="1.8"/>
<circle cx="1200.3" cy="900.6" r="6" fill="#fff" stroke="#000" stroke-width="1.8"/>
<circle cx="1106.2" cy="958.6" r="6" fill="#fff" stroke="#000" stroke-width="1.8"/>
<circle cx="1200.3" cy="913.8" r="6" fill="#fff" stroke="#000" stroke-width="1.8"/>
<circle cx="1106.2" cy="996.5" r="6" fill="#fff" stroke="#000" stroke-width="1.8"/>
<circle cx="1200.3" cy="913.8" r="6" fill="#fff" stroke="#000" stroke-width="1.8"/>
<circle cx="1106.2" cy="999.5" r="6" fill="#fff" stroke="#000" stroke-width="1.8"/>
<circle cx="1200.3" cy="931.5" r="6" fill="#fff" stroke="#000" stroke-width="1.8"/>
<circle cx="1106.2" cy="1045.3" r="6" fill="#fff" stroke="#000" stroke-width="1.8"/>
<circle cx="1200.3" cy="824.4" r="6" fill="#fff" stroke="#000" stroke-width="1.8"/>
<line x1="1109.3" y1="750.7" x2="1200.1" y2="750.7" stroke="#000" stroke-width="2.7" stroke-linecap="butt"/>
<text x="1156" y="754.0" font-size="26" text-anchor="middle" fill="#111" stroke="#111" stroke-width="0.45">***</text>
<rect x="717.2" y="1377.7" width="36.09999999999991" height="91.09999999999991" fill="#d6d6d6" stroke="none" stroke-width="0" rx="0"/>
<rect x="771.9" y="1296.9" width="35.60000000000002" height="171.89999999999986" fill="#72a8cd" stroke="none" stroke-width="0" rx="0"/>
<rect x="826.1" y="1349.8" width="35.60000000000002" height="119.0" fill="#d87b7d" stroke="none" stroke-width="0" rx="0"/>
<line x1="699.2" y1="1164.3" x2="699.2" y2="1470.5" stroke="#000" stroke-width="3.4" stroke-linecap="butt"/>
<line x1="697.5" y1="1468.8" x2="883.1" y2="1468.8" stroke="#000" stroke-width="3.4" stroke-linecap="butt"/>
<line x1="685.7" y1="1468.8" x2="699.2" y2="1468.8" stroke="#000" stroke-width="3.4" stroke-linecap="butt"/>
<text x="682.5" y="1477.75" font-size="25" text-anchor="end" font-weight="normal" font-style="normal" fill="#111" >0</text>
<line x1="685.7" y1="1393.3" x2="699.2" y2="1393.3" stroke="#000" stroke-width="3.4" stroke-linecap="butt"/>
<text x="682.5" y="1402.25" font-size="25" text-anchor="end" font-weight="normal" font-style="normal" fill="#111" >2</text>
<line x1="685.7" y1="1317.7" x2="699.2" y2="1317.7" stroke="#000" stroke-width="3.4" stroke-linecap="butt"/>
<text x="682.5" y="1326.65" font-size="25" text-anchor="end" font-weight="normal" font-style="normal" fill="#111" >4</text>
<line x1="685.7" y1="1242" x2="699.2" y2="1242" stroke="#000" stroke-width="3.4" stroke-linecap="butt"/>
<text x="682.5" y="1250.95" font-size="25" text-anchor="end" font-weight="normal" font-style="normal" fill="#111" >6</text>
<line x1="685.7" y1="1166" x2="699.2" y2="1166" stroke="#000" stroke-width="3.4" stroke-linecap="butt"/>
<text x="682.5" y="1174.95" font-size="25" text-anchor="end" font-weight="normal" font-style="normal" fill="#111" >8</text>
<line x1="734.9" y1="1468.8" x2="734.9" y2="1481.3" stroke="#000" stroke-width="3.4" stroke-linecap="butt"/>
<line x1="789.7" y1="1468.8" x2="789.7" y2="1481.3" stroke="#000" stroke-width="3.4" stroke-linecap="butt"/>
<line x1="844.4" y1="1468.8" x2="844.4" y2="1481.3" stroke="#000" stroke-width="3.4" stroke-linecap="butt"/>
<line x1="734.9" y1="1368.1" x2="734.9" y2="1386.4" stroke="#111" stroke-width="1.8" stroke-linecap="butt"/>
<line x1="726.1999999999999" y1="1368.1" x2="743.6" y2="1368.1" stroke="#111" stroke-width="1.8" stroke-linecap="butt"/>
<line x1="726.1999999999999" y1="1386.4" x2="743.6" y2="1386.4" stroke="#111" stroke-width="1.8" stroke-linecap="butt"/>
<line x1="789.7" y1="1267.4" x2="789.7" y2="1326.5" stroke="#111" stroke-width="1.8" stroke-linecap="butt"/>
<line x1="781.0" y1="1267.4" x2="798.4000000000001" y2="1267.4" stroke="#111" stroke-width="1.8" stroke-linecap="butt"/>
<line x1="781.0" y1="1326.5" x2="798.4000000000001" y2="1326.5" stroke="#111" stroke-width="1.8" stroke-linecap="butt"/>
<line x1="844.4" y1="1334.7" x2="844.4" y2="1364.8" stroke="#111" stroke-width="1.8" stroke-linecap="butt"/>
<line x1="835.6999999999999" y1="1334.7" x2="853.1" y2="1334.7" stroke="#111" stroke-width="1.8" stroke-linecap="butt"/>
<line x1="835.6999999999999" y1="1364.8" x2="853.1" y2="1364.8" stroke="#111" stroke-width="1.8" stroke-linecap="butt"/>
<circle cx="735.5" cy="1343.5" r="4.2" fill="none" stroke="#111" stroke-width="1.6"/>
<circle cx="721.8" cy="1381.8" r="4.2" fill="none" stroke="#111" stroke-width="1.6"/>
<circle cx="748.6" cy="1376.3" r="4.2" fill="none" stroke="#111" stroke-width="1.6"/>
<circle cx="748.6" cy="1387.8" r="4.2" fill="none" stroke="#111" stroke-width="1.6"/>
<circle cx="735.5" cy="1398.2" r="4.2" fill="none" stroke="#111" stroke-width="1.6"/>
<circle cx="789.7" cy="1192.4" r="4.2" fill="none" stroke="#111" stroke-width="1.6"/>
<circle cx="789.7" cy="1269.6" r="4.2" fill="none" stroke="#111" stroke-width="1.6"/>
<circle cx="776.5" cy="1333.9" r="4.2" fill="none" stroke="#111" stroke-width="1.6"/>
<circle cx="776.5" cy="1344.8" r="4.2" fill="none" stroke="#111" stroke-width="1.6"/>
<circle cx="802.8" cy="1342.1" r="4.2" fill="none" stroke="#111" stroke-width="1.6"/>
<circle cx="844.4" cy="1303.8" r="4.2" fill="none" stroke="#111" stroke-width="1.6"/>
<circle cx="844.4" cy="1329.2" r="4.2" fill="none" stroke="#111" stroke-width="1.6"/>
<circle cx="844.4" cy="1357.1" r="4.2" fill="none" stroke="#111" stroke-width="1.6"/>
<circle cx="844.4" cy="1372.2" r="4.2" fill="none" stroke="#111" stroke-width="1.6"/>
<circle cx="844.4" cy="1387.2" r="4.2" fill="none" stroke="#111" stroke-width="1.6"/>
<text x="741.5" y="1499.5" font-size="24.3" text-anchor="end" font-weight="normal" font-style="normal" fill="#111" transform="rotate(-45 741.5 1499.5)" >Vehicle</text>
<text x="796.5" y="1499.5" font-size="24.3" text-anchor="end" font-weight="normal" font-style="normal" fill="#111" transform="rotate(-45 796.5 1499.5)" >L-B.p</text>
<text x="851.5" y="1499.5" font-size="24.3" text-anchor="end" font-weight="normal" font-style="normal" fill="#111" transform="rotate(-45 851.5 1499.5)" >D-B.p</text>
<text x="648.2" y="1317.9" font-size="25" text-anchor="middle" fill="#111" transform="rotate(-90 648.2 1317.9)">Serum IAA-d<tspan font-size="16.5" dy="5">5</tspan><tspan dy="-5"> level (ng/mL)</tspan></text>
<line x1="733.6" y1="1163.4" x2="837.6" y2="1163.4" stroke="#000" stroke-width="2.7" stroke-linecap="butt"/>
<line x1="733.6" y1="1180.9" x2="793" y2="1180.9" stroke="#000" stroke-width="2.7" stroke-linecap="butt"/>
<text x="784.7" y="1152.4" font-size="16.8" text-anchor="middle" fill="#111"><tspan font-style="italic">p</tspan>=0.08</text>
<text x="764.2" y="1184.48" font-size="22.5" text-anchor="middle" fill="#111" stroke="#111" stroke-width="0.45">*</text>
<rect x="1063.4" y="1299.6" width="35.69999999999982" height="162.9000000000001" fill="#d6d6d6" stroke="none" stroke-width="0" rx="0"/>
<rect x="1117.8" y="1241.6" width="35.700000000000045" height="220.9000000000001" fill="#72a8cd" stroke="none" stroke-width="0" rx="0"/>
<rect x="1171.6" y="1343.4" width="36.30000000000018" height="119.09999999999991" fill="#d87b7d" stroke="none" stroke-width="0" rx="0"/>
<line x1="1045.5" y1="1158.3999999999999" x2="1045.5" y2="1464.2" stroke="#000" stroke-width="3.4" stroke-linecap="butt"/>
<line x1="1043.8" y1="1462.5" x2="1227.7" y2="1462.5" stroke="#000" stroke-width="3.4" stroke-linecap="butt"/>
<line x1="1032.0" y1="1462.5" x2="1045.5" y2="1462.5" stroke="#000" stroke-width="3.4" stroke-linecap="butt"/>
<text x="1028.0" y="1471.45" font-size="25" text-anchor="end" font-weight="normal" font-style="normal" fill="#111" >0.0</text>
<line x1="1032.0" y1="1362.1" x2="1045.5" y2="1362.1" stroke="#000" stroke-width="3.4" stroke-linecap="butt"/>
<text x="1028.0" y="1371.05" font-size="25" text-anchor="end" font-weight="normal" font-style="normal" fill="#111" >0.1</text>
<line x1="1032.0" y1="1261.1" x2="1045.5" y2="1261.1" stroke="#000" stroke-width="3.4" stroke-linecap="butt"/>
<text x="1028.0" y="1270.05" font-size="25" text-anchor="end" font-weight="normal" font-style="normal" fill="#111" >0.2</text>
<line x1="1032.0" y1="1160.1" x2="1045.5" y2="1160.1" stroke="#000" stroke-width="3.4" stroke-linecap="butt"/>
<text x="1028.0" y="1169.05" font-size="25" text-anchor="end" font-weight="normal" font-style="normal" fill="#111" >0.3</text>
<line x1="1081" y1="1462.5" x2="1081" y2="1475.0" stroke="#000" stroke-width="3.4" stroke-linecap="butt"/>
<line x1="1135.4" y1="1462.5" x2="1135.4" y2="1475.0" stroke="#000" stroke-width="3.4" stroke-linecap="butt"/>
<line x1="1189.8" y1="1462.5" x2="1189.8" y2="1475.0" stroke="#000" stroke-width="3.4" stroke-linecap="butt"/>
<line x1="1081" y1="1286.2" x2="1081" y2="1312.7" stroke="#111" stroke-width="1.8" stroke-linecap="butt"/>
<line x1="1072.3" y1="1286.2" x2="1089.7" y2="1286.2" stroke="#111" stroke-width="1.8" stroke-linecap="butt"/>
<line x1="1072.3" y1="1312.7" x2="1089.7" y2="1312.7" stroke="#111" stroke-width="1.8" stroke-linecap="butt"/>
<line x1="1135.4" y1="1224" x2="1135.4" y2="1259.1" stroke="#111" stroke-width="1.8" stroke-linecap="butt"/>
<line x1="1126.7" y1="1224" x2="1144.1000000000001" y2="1224" stroke="#111" stroke-width="1.8" stroke-linecap="butt"/>
<line x1="1126.7" y1="1259.1" x2="1144.1000000000001" y2="1259.1" stroke="#111" stroke-width="1.8" stroke-linecap="butt"/>
<line x1="1189.8" y1="1337.8" x2="1189.8" y2="1349" stroke="#111" stroke-width="1.8" stroke-linecap="butt"/>
<line x1="1181.1" y1="1337.8" x2="1198.5" y2="1337.8" stroke="#111" stroke-width="1.8" stroke-linecap="butt"/>
<line x1="1181.1" y1="1349" x2="1198.5" y2="1349" stroke="#111" stroke-width="1.8" stroke-linecap="butt"/>
<circle cx="1081" cy="1261.7" r="4.2" fill="none" stroke="#111" stroke-width="1.6"/>
<circle cx="1081" cy="1283.4" r="4.2" fill="none" stroke="#111" stroke-width="1.6"/>
<circle cx="1067.6" cy="1302.4" r="4.2" fill="none" stroke="#111" stroke-width="1.6"/>
<circle cx="1094.4" cy="1307.1" r="4.2" fill="none" stroke="#111" stroke-width="1.6"/>
<circle cx="1081" cy="1341.2" r="4.2" fill="none" stroke="#111" stroke-width="1.6"/>
<circle cx="1135.4" cy="1175.5" r="4.2" fill="none" stroke="#111" stroke-width="1.6"/>
<circle cx="1122" cy="1244.4" r="4.2" fill="none" stroke="#111" stroke-width="1.6"/>
<circle cx="1135.4" cy="1251.3" r="4.2" fill="none" stroke="#111" stroke-width="1.6"/>
<circle cx="1148.8" cy="1250.8" r="4.2" fill="none" stroke="#111" stroke-width="1.6"/>
<circle cx="1135.4" cy="1283.4" r="4.2" fill="none" stroke="#111" stroke-width="1.6"/>
<circle cx="1176.4" cy="1333.1" r="4.2" fill="none" stroke="#111" stroke-width="1.6"/>
<circle cx="1185" cy="1338.4" r="4.2" fill="none" stroke="#111" stroke-width="1.6"/>
<circle cx="1193.9" cy="1337.8" r="4.2" fill="none" stroke="#111" stroke-width="1.6"/>
<circle cx="1203.1" cy="1338.6" r="4.2" fill="none" stroke="#111" stroke-width="1.6"/>
<circle cx="1189.8" cy="1367.1" r="4.2" fill="none" stroke="#111" stroke-width="1.6"/>
<text x="1088" y="1496" font-size="24.3" text-anchor="end" font-weight="normal" font-style="normal" fill="#111" transform="rotate(-45 1088 1496)" >Vehicle</text>
<text x="1142.5" y="1496" font-size="24.3" text-anchor="end" font-weight="normal" font-style="normal" fill="#111" transform="rotate(-45 1142.5 1496)" >L-B.p</text>
<text x="1196.5" y="1496" font-size="24.3" text-anchor="end" font-weight="normal" font-style="normal" fill="#111" transform="rotate(-45 1196.5 1496)" >D-B.p</text>
<text x="942.9" y="1310.6" font-size="25" text-anchor="middle" fill="#111" transform="rotate(-90 942.9 1310.6)">Hippocampal IAA-d<tspan font-size="16.5" dy="5">5</tspan><tspan dy="-5"> level</tspan></text>
<text x="975.8" y="1310.6" font-size="25" text-anchor="middle" font-weight="normal" font-style="normal" fill="#111" transform="rotate(-90 975.8 1310.6)" >(ng/mg)</text>
<line x1="1081" y1="1162.9" x2="1132.6" y2="1162.9" stroke="#000" stroke-width="2.7" stroke-linecap="butt"/>
<line x1="1139.5" y1="1162.9" x2="1191.7" y2="1162.9" stroke="#000" stroke-width="2.7" stroke-linecap="butt"/>
<text x="1106.1" y="1165.68" font-size="22.5" text-anchor="middle" fill="#111" stroke="#111" stroke-width="0.45">**</text>
<text x="1164.1" y="1165.68" font-size="22.5" text-anchor="middle" fill="#111" stroke="#111" stroke-width="0.45">*</text>
<text x="413.5" y="76.6" font-size="25" text-anchor="middle" font-weight="normal" font-style="normal" fill="#111" >Anaerobic</text>
<text x="413.5" y="105.8" font-size="25" text-anchor="middle" font-weight="normal" font-style="normal" fill="#111" >stabilization</text>
<text x="413.5" y="135.0" font-size="25" text-anchor="middle" font-weight="normal" font-style="normal" fill="#111" >for 3 days</text>
<text x="696" y="76" font-size="25" text-anchor="middle" font-weight="normal" font-style="normal" fill="#111" >2% seeded in GB</text>
<text x="696" y="105.4" font-size="25" text-anchor="middle" font-weight="normal" font-style="normal" fill="#111" >with or without</text>
<text x="693.6" y="134.8" font-size="25" text-anchor="middle" font-weight="normal" font-style="italic" fill="#111" >B.pseudolongum</text>
<text x="691.9" y="197.8" font-size="24.4" text-anchor="middle" font-weight="normal" font-style="normal" fill="#111" >0,3,6,12,24 or 36h</text>
<text x="275" y="198" font-size="25" text-anchor="middle" font-weight="normal" font-style="normal" fill="#111" >Mouse or human</text>
<text x="275" y="227" font-size="25" text-anchor="middle" font-weight="normal" font-style="normal" fill="#111" >stool (100 mg)</text>
<linearGradient id="ga1" gradientUnits="userSpaceOnUse" x1="326" x2="478" y1="0" y2="0"><stop offset="0" stop-color="#4b93bd" stop-opacity="0"/><stop offset="0.5" stop-color="#4b93bd" stop-opacity="0.8"/><stop offset="1" stop-color="#4b93bd"/></linearGradient>
<linearGradient id="ga2" gradientUnits="userSpaceOnUse" x1="588" x2="781" y1="0" y2="0"><stop offset="0" stop-color="#4b93bd" stop-opacity="0"/><stop offset="0.5" stop-color="#4b93bd" stop-opacity="0.8"/><stop offset="1" stop-color="#4b93bd"/></linearGradient>
<linearGradient id="ga3" gradientUnits="userSpaceOnUse" x1="881" x2="918" y1="0" y2="0"><stop offset="0" stop-color="#4b93bd" stop-opacity="0"/><stop offset="0.6" stop-color="#4b93bd" stop-opacity="0.85"/><stop offset="1" stop-color="#4b93bd"/></linearGradient>
<polygon points="326,154.70000000000002 478.4,154.70000000000002 478.4,147.0 501.7,158.8 478.4,170.60000000000002 478.4,162.9 326,162.9" fill="url(#ga1)"/>
<polygon points="588,154.5 781,154.5 781,146.79999999999998 804.6,158.6 781,170.4 781,162.7 588,162.7" fill="url(#ga2)"/>
<polygon points="881,154.6 918.5,154.6 918.5,146.89999999999998 941.7,158.7 918.5,170.5 918.5,162.79999999999998 881,162.79999999999998" fill="url(#ga3)"/>
<g transform="translate(235,105) scale(0.06305)">
<path d="M610,135 C520,170 420,270 385,400 C375,440 385,470 400,485 C320,500 270,560 280,620 C285,650 300,665 310,670 C220,700 175,770 190,840 C210,960 400,1010 630,1010 C860,1010 1060,960 1075,830 C1085,760 1040,700 960,670 C985,620 975,540 900,500 C880,490 870,485 865,480 C900,420 870,340 790,315 C720,295 640,300 600,260 C570,225 585,170 610,135 Z" fill="#845441" stroke="#70473a" stroke-width="10" stroke-linejoin="round"/>
<path d="M300,662 C450,765 800,775 962,668" fill="none" stroke="#6c4434" stroke-width="12" opacity="0.55"/>
<path d="M398,482 C500,548 760,562 866,478" fill="none" stroke="#6c4434" stroke-width="12" opacity="0.55"/>
<path d="M730,382 C792,410 792,470 745,500" fill="none" stroke="#9c6d5a" stroke-width="26" stroke-linecap="round" opacity="0.75"/>
<path d="M398,550 C470,587 550,598 628,598" fill="none" stroke="#9c6d5a" stroke-width="26" stroke-linecap="round" opacity="0.75"/>
<path d="M322,770 C420,806 550,816 650,812" fill="none" stroke="#9c6d5a" stroke-width="26" stroke-linecap="round" opacity="0.75"/>
</g>
<g transform="translate(505,100) scale(0.06747)">
<path d="M410,430 C300,440 215,520 225,640 C232,720 270,770 300,780 L345,690 C310,660 295,610 310,570 C325,530 370,505 410,500 Z" fill="#e9edf2" stroke="#cfd6de" stroke-width="8"/>
<path d="M790,430 C900,440 985,520 975,640 C968,720 930,770 900,780 L855,690 C890,660 905,610 890,570 C875,530 830,505 790,500 Z" fill="#e9edf2" stroke="#cfd6de" stroke-width="8"/>
<path d="M400,380 L800,380 L800,590 L1035,1140 C1080,1260 1060,1350 975,1395 C870,1450 330,1450 225,1395 C140,1350 120,1260 165,1140 L400,590 Z" fill="#e4e9ef" stroke="#cdd4dc" stroke-width="8"/>
<rect x="500" y="400" width="190" height="200" fill="#f2f5f9" opacity="0.8"/>
<path d="M425,612 C500,585 700,585 775,612 L1015,1150 C1055,1255 1035,1335 960,1375 C860,1425 340,1425 240,1375 C165,1335 145,1255 185,1150 Z" fill="#f2dc96"/>
<path d="M470,640 C530,622 670,622 730,640 L930,1120 C960,1215 940,1290 880,1325 C800,1365 400,1365 320,1325 C260,1290 240,1215 270,1120 Z" fill="#f7e5ab"/>
<path d="M520,660 L690,660 L800,1100 L420,1100 Z" fill="#faedc4" opacity="0.55"/>
<ellipse cx="600" cy="1285" rx="330" ry="95" fill="#f0d688" opacity="0.6"/>
<path d="M385,230 C385,150 815,150 815,230 L815,370 C815,415 385,415 385,370 Z" fill="#d4d4d4" stroke="#c2c2c2" stroke-width="6"/>
<ellipse cx="600" cy="222" rx="205" ry="52" fill="#e6e6e6"/>
<line x1="425" y1="285" x2="425" y2="395" stroke="#cbcbcb" stroke-width="9"/>
<line x1="469" y1="285" x2="469" y2="395" stroke="#cbcbcb" stroke-width="9"/>
<line x1="513" y1="285" x2="513" y2="395" stroke="#cbcbcb" stroke-width="9"/>
<line x1="557" y1="285" x2="557" y2="395" stroke="#cbcbcb" stroke-width="9"/>
<line x1="601" y1="285" x2="601" y2="395" stroke="#cbcbcb" stroke-width="9"/>
<line x1="645" y1="285" x2="645" y2="395" stroke="#cbcbcb" stroke-width="9"/>
<line x1="689" y1="285" x2="689" y2="395" stroke="#cbcbcb" stroke-width="9"/>
<line x1="733" y1="285" x2="733" y2="395" stroke="#cbcbcb" stroke-width="9"/>
<line x1="777" y1="285" x2="777" y2="395" stroke="#cbcbcb" stroke-width="9"/>
</g>
<g transform="translate(805.3,99.8) scale(0.06747)">
<path d="M410,430 C300,440 215,520 225,640 C232,720 270,770 300,780 L345,690 C310,660 295,610 310,570 C325,530 370,505 410,500 Z" fill="#e9edf2" stroke="#cfd6de" stroke-width="8"/>
<path d="M790,430 C900,440 985,520 975,640 C968,720 930,770 900,780 L855,690 C890,660 905,610 890,570 C875,530 830,505 790,500 Z" fill="#e9edf2" stroke="#cfd6de" stroke-width="8"/>
<path d="M400,380 L800,380 L800,590 L1035,1140 C1080,1260 1060,1350 975,1395 C870,1450 330,1450 225,1395 C140,1350 120,1260 165,1140 L400,590 Z" fill="#e4e9ef" stroke="#cdd4dc" stroke-width="8"/>
<rect x="500" y="400" width="190" height="200" fill="#f2f5f9" opacity="0.8"/>
<path d="M425,612 C500,585 700,585 775,612 L1015,1150 C1055,1255 1035,1335 960,1375 C860,1425 340,1425 240,1375 C165,1335 145,1255 185,1150 Z" fill="#dcba54"/>
<path d="M470,640 C530,622 670,622 730,640 L930,1120 C960,1215 940,1290 880,1325 C800,1365 400,1365 320,1325 C260,1290 240,1215 270,1120 Z" fill="#e5c96f"/>
<path d="M520,660 L690,660 L800,1100 L420,1100 Z" fill="#ead184" opacity="0.55"/>
<ellipse cx="600" cy="1285" rx="330" ry="95" fill="#d8b44b" opacity="0.6"/>
<path d="M385,230 C385,150 815,150 815,230 L815,370 C815,415 385,415 385,370 Z" fill="#d4d4d4" stroke="#c2c2c2" stroke-width="6"/>
<ellipse cx="600" cy="222" rx="205" ry="52" fill="#e6e6e6"/>
<line x1="425" y1="285" x2="425" y2="395" stroke="#cbcbcb" stroke-width="9"/>
<line x1="469" y1="285" x2="469" y2="395" stroke="#cbcbcb" stroke-width="9"/>
<line x1="513" y1="285" x2="513" y2="395" stroke="#cbcbcb" stroke-width="9"/>
<line x1="557" y1="285" x2="557" y2="395" stroke="#cbcbcb" stroke-width="9"/>
<line x1="601" y1="285" x2="601" y2="395" stroke="#cbcbcb" stroke-width="9"/>
<line x1="645" y1="285" x2="645" y2="395" stroke="#cbcbcb" stroke-width="9"/>
<line x1="689" y1="285" x2="689" y2="395" stroke="#cbcbcb" stroke-width="9"/>
<line x1="733" y1="285" x2="733" y2="395" stroke="#cbcbcb" stroke-width="9"/>
<line x1="777" y1="285" x2="777" y2="395" stroke="#cbcbcb" stroke-width="9"/>
</g>
<g transform="translate(945,80) scale(0.13396)">
<path d="M153.2,98 L182.8,98 L182.8,116.0 L205,140.0 L205,198 L131,198 L131,140.0 L153.2,116.0 Z" fill="#abc8e3" stroke="#d3e2f0" stroke-width="5"/>
<rect x="150.98" y="92" width="34.04" height="14.000000000000002" fill="#5f95c4"/>
<path d="M233.6,92 L254.4,92 L254.4,110.0 L270,134.0 L270,192 L218,192 L218,134.0 L233.6,110.0 Z" fill="#abc8e3" stroke="#d3e2f0" stroke-width="5"/>
<rect x="232.04" y="86" width="23.92" height="14.000000000000002" fill="#5f95c4"/>
<path d="M316.0,84 L340.0,84 L340.0,104.16 L358,131.04 L358,196 L298,196 L298,131.04 L316.0,104.16 Z" fill="#abc8e3" stroke="#d3e2f0" stroke-width="5"/>
<rect x="314.2" y="78" width="27.6" height="15.680000000000001" fill="#5f95c4"/>
<path d="M241.2,146 L258.8,146 L258.8,155.36 L272,167.84 L272,198 L228,198 L228,167.84 L241.2,155.36 Z" fill="#abc8e3" stroke="#d3e2f0" stroke-width="5"/>
<rect x="239.88" y="140" width="20.240000000000002" height="7.280000000000001" fill="#5f95c4"/>
<path d="M286.5,142 L304.5,142 L304.5,151.9 L318,165.1 L318,197 L273,197 L273,165.1 L286.5,151.9 Z" fill="#abc8e3" stroke="#d3e2f0" stroke-width="5"/>
<rect x="285.15" y="136" width="20.7" height="7.700000000000001" fill="#5f95c4"/>
<path d="M200,195 C300,215 380,190 400,230 L420,275" fill="none" stroke="#9aa0a6" stroke-width="6"/>
<path d="M130,195 C95,195 80,205 80,225 L78,275" fill="none" stroke="#9aa0a6" stroke-width="6"/>
<path d="M250,195 C290,235 350,225 385,255" fill="none" stroke="#b8bcc2" stroke-width="5"/>
<polygon points="95,198 385,198 395,270 270,275 95,275" fill="#53585d"/>
<rect x="65" y="268" width="210" height="585" fill="#4d5257"/>
<rect x="92" y="215" width="160" height="180" fill="#3e4246"/>
<line x1="65" y1="398" x2="270" y2="398" stroke="#6a7076" stroke-width="5"/>
<line x1="65" y1="655" x2="270" y2="655" stroke="#6a7076" stroke-width="5"/>
<rect x="55" y="420" width="14" height="130" fill="#5a5f65"/>
<rect x="97" y="488" width="146" height="104" fill="#2a2c2f" stroke="#747a80" stroke-width="6"/>
<rect x="65" y="850" width="335" height="45" fill="#6d7278"/>
<rect x="270" y="280" width="108" height="568" fill="#f3f4f8"/>
<rect x="362" y="280" width="18" height="568" fill="#5b94c2"/>
<line x1="270" y1="415" x2="362" y2="415" stroke="#c9ccd4" stroke-width="5"/>
<line x1="270" y1="665" x2="362" y2="665" stroke="#c9ccd4" stroke-width="5"/>
<rect x="270" y="262" width="112" height="20" fill="#8d9297"/>
<rect x="408" y="290" width="88" height="582" fill="#50555a"/>
<rect x="395" y="868" width="108" height="28" fill="#6d7278"/>
<polygon points="570,858 785,858 785,880 1050,880 1105,903 1102,930 570,903" fill="#a3a3a2"/>
<rect x="500" y="283" width="275" height="560" fill="#e3e3e3"/>
<rect x="512" y="287" width="262" height="552" fill="#54595e"/>
<rect x="550" y="478" width="183" height="292" rx="18" fill="none" stroke="#cfcfcf" stroke-width="9"/>
<polygon points="600,650 685,635 695,745 640,748" fill="#c4c4c4"/>
<rect x="638" y="490" width="64" height="150" rx="10" fill="#d2d2d2"/>
<rect x="530" y="497" width="122" height="160" rx="20" fill="#eeeeee"/>
<rect x="548" y="560" width="86" height="66" fill="#9b9b9b"/>
<path d="M565,495 C565,455 600,470 610,440" fill="none" stroke="#3a3d40" stroke-width="7"/>
<circle cx="688" cy="595" r="8" fill="#8a8a8a"/>
<polygon points="775,268 1112,255 1085,560 1045,882 775,882" fill="#e8e7e5"/>
<polygon points="775,268 1112,255 1100,410 775,410" fill="#eeeeed"/>
<line x1="800" y1="410" x2="1088" y2="410" stroke="#a8c8cf" stroke-width="4" stroke-dasharray="30,18"/>
<linearGradient id="gside" gradientUnits="userSpaceOnUse" x1="1090" x2="1205" y1="0" y2="0"><stop offset="0" stop-color="#a9c2dc"/><stop offset="0.45" stop-color="#cfd8e3"/><stop offset="1" stop-color="#dcdee2"/></linearGradient>
<polygon points="1138,263 1205,300 1205,872 1105,905 1060,882 1100,560" fill="url(#gside)"/>
<line x1="1128.0" y1="310" x2="1205" y2="320" stroke="#b7c6d8" stroke-width="4" opacity="0.8"/>
<line x1="1124.8" y1="350" x2="1205" y2="360" stroke="#b7c6d8" stroke-width="4" opacity="0.8"/>
<line x1="1121.6" y1="390" x2="1205" y2="400" stroke="#b7c6d8" stroke-width="4" opacity="0.8"/>
<line x1="1118.4" y1="430" x2="1205" y2="440" stroke="#b7c6d8" stroke-width="4" opacity="0.8"/>
<line x1="1115.2" y1="470" x2="1205" y2="480" stroke="#b7c6d8" stroke-width="4" opacity="0.8"/>
<line x1="1112.0" y1="510" x2="1205" y2="520" stroke="#b7c6d8" stroke-width="4" opacity="0.8"/>
<line x1="1108.8" y1="550" x2="1205" y2="560" stroke="#b7c6d8" stroke-width="4" opacity="0.8"/>
<line x1="1105.6" y1="590" x2="1205" y2="600" stroke="#b7c6d8" stroke-width="4" opacity="0.8"/>
<line x1="1102.4" y1="630" x2="1205" y2="640" stroke="#b7c6d8" stroke-width="4" opacity="0.8"/>
<line x1="1099.2" y1="670" x2="1205" y2="680" stroke="#b7c6d8" stroke-width="4" opacity="0.8"/>
<line x1="1096.0" y1="710" x2="1205" y2="720" stroke="#b7c6d8" stroke-width="4" opacity="0.8"/>
<line x1="1092.8" y1="750" x2="1205" y2="760" stroke="#b7c6d8" stroke-width="4" opacity="0.8"/>
<line x1="1089.6" y1="790" x2="1205" y2="800" stroke="#b7c6d8" stroke-width="4" opacity="0.8"/>
<line x1="1086.4" y1="830" x2="1205" y2="840" stroke="#b7c6d8" stroke-width="4" opacity="0.8"/>
<line x1="1083.2" y1="870" x2="1205" y2="880" stroke="#b7c6d8" stroke-width="4" opacity="0.8"/>
<polygon points="1112,255 1136,262 1100,560 1062,884 1040,882 1085,560" fill="#6598c5"/>
</g>
<text x="271" y="1292" font-size="21.6" text-anchor="middle" fill="#111">Live or dead <tspan font-style="italic">B.p</tspan> strain</text>
<text x="271" y="1322.4" font-size="21.6" text-anchor="middle" fill="#111">(2<tspan font-size="29" dy="1.5">×</tspan><tspan dy="-1.5">10</tspan><tspan font-size="13" dy="-8">9</tspan><tspan dy="8"> CFU/mL, </tspan><tspan font-style="italic">i.g.</tspan> daily)</text>
<text x="74" y="1331.2" font-size="21.6" text-anchor="middle" font-weight="normal" font-style="normal" fill="#111" >(8w-old)</text>
<text x="543.3" y="1292" font-size="21.6" text-anchor="middle" fill="#111">Trp-d<tspan font-size="13" dy="3">5</tspan></text>
<text x="542.6" y="1317" font-size="21.6" text-anchor="middle" font-weight="normal" font-style="normal" fill="#111" >(100mg/kg)</text>
<linearGradient id="gb1" gradientUnits="userSpaceOnUse" x1="80" x2="469" y1="0" y2="0"><stop offset="0" stop-color="#fff"/><stop offset="0.08" stop-color="#eef4f9"/><stop offset="1" stop-color="#5f9dc4"/></linearGradient>
<linearGradient id="gb2" gradientUnits="userSpaceOnUse" x1="476" x2="546.5" y1="0" y2="0"><stop offset="0" stop-color="#fff"/><stop offset="1" stop-color="#5f9dc4"/></linearGradient>
<rect x="80.6" y="1338.3" width="388.2" height="18.8" fill="url(#gb1)" stroke="none" stroke-width="0" rx="0"/>
<rect x="476" y="1338.3" width="70.5" height="18.8" fill="url(#gb2)" stroke="none" stroke-width="0" rx="0"/>
<line x1="80.6" y1="1348.6" x2="80.6" y2="1364.5" stroke="#000" stroke-width="2.6" stroke-linecap="butt"/>
<line x1="468" y1="1348.6" x2="468" y2="1364.5" stroke="#000" stroke-width="2.6" stroke-linecap="butt"/>
<line x1="546.2" y1="1348.6" x2="546.2" y2="1364.5" stroke="#000" stroke-width="2.6" stroke-linecap="butt"/>
<text x="74.3" y="1393" font-size="25" text-anchor="middle" font-weight="normal" font-style="normal" fill="#111" >D0</text>
<text x="456.8" y="1393" font-size="25" text-anchor="middle" font-weight="normal" font-style="normal" fill="#111" >D10</text>
<text x="542.2" y="1393" font-size="25" text-anchor="middle" font-weight="normal" font-style="normal" fill="#111" >8h</text>
<g transform="translate(5,1240) scale(0.11033)">
<path d="M745,612 C850,640 950,590 1040,610 C1110,630 1140,670 1122,712" fill="none" stroke="#ad8585" stroke-width="14" stroke-linecap="round"/>
<path d="M445,622 C500,632 580,630 650,630" fill="none" stroke="#a88484" stroke-width="15" stroke-linecap="round"/>
<path d="M400,292 C430,270 500,272 540,290 C560,280 585,285 585,305 C600,320 600,340 600,350 C680,340 745,400 765,480 C780,540 760,590 745,615 C735,640 690,640 640,632 C600,628 540,620 515,585 C505,600 505,610 495,612 L470,600 C478,570 470,545 462,520 C440,500 445,470 455,440 C450,410 430,390 420,365 C400,345 395,315 400,292 Z" fill="#4b4644"/>
<path d="M408,505 C425,490 445,500 462,520" fill="none" stroke="#8f7474" stroke-width="14" stroke-linecap="round"/>
<ellipse cx="566" cy="358" rx="36" ry="27" fill="#b88c8c" transform="rotate(-15 566 358)"/>
<circle cx="470" cy="312" r="7" fill="#1e1c1b"/>
<g transform="translate(385,312) rotate(34.5)">
<rect x="-22" y="-22" width="30" height="44" rx="6" fill="#ecdcc0"/>
<rect x="-270" y="-26" width="250" height="52" fill="#c9d7e4" stroke="#b5c3d0" stroke-width="5"/>
<rect x="-265" y="-8" width="240" height="14" fill="#eef3f8"/>
<rect x="-38" y="-26" width="16" height="52" fill="#7d868e"/>
<rect x="-282" y="-52" width="16" height="104" rx="7" fill="#e6eaee" stroke="#c5cbd2" stroke-width="5"/>
<rect x="-345" y="-10" width="65" height="20" fill="#e6eaee" stroke="#c5cbd2" stroke-width="5"/>
<rect x="-360" y="-32" width="16" height="64" rx="7" fill="#e6eaee" stroke="#c5cbd2" stroke-width="5"/>
</g>
</g>
<g transform="translate(370.5,1255.5) scale(0.11033)">
<path d="M745,612 C850,640 950,590 1040,610 C1110,630 1140,670 1122,712" fill="none" stroke="#ad8585" stroke-width="14" stroke-linecap="round"/>
<path d="M445,622 C500,632 580,630 650,630" fill="none" stroke="#a88484" stroke-width="15" stroke-linecap="round"/>
<path d="M400,292 C430,270 500,272 540,290 C560,280 585,285 585,305 C600,320 600,340 600,350 C680,340 745,400 765,480 C780,540 760,590 745,615 C735,640 690,640 640,632 C600,628 540,620 515,585 C505,600 505,610 495,612 L470,600 C478,570 470,545 462,520 C440,500 445,470 455,440 C450,410 430,390 420,365 C400,345 395,315 400,292 Z" fill="#4b4644"/>
<path d="M408,505 C425,490 445,500 462,520" fill="none" stroke="#8f7474" stroke-width="14" stroke-linecap="round"/>
<ellipse cx="566" cy="358" rx="36" ry="27" fill="#b88c8c" transform="rotate(-15 566 358)"/>
<circle cx="470" cy="312" r="7" fill="#1e1c1b"/>
<g transform="translate(385,312) rotate(34.5)">
<rect x="-22" y="-22" width="30" height="44" rx="6" fill="#ecdcc0"/>
<rect x="-270" y="-26" width="250" height="52" fill="#c9d7e4" stroke="#b5c3d0" stroke-width="5"/>
<rect x="-265" y="-8" width="240" height="14" fill="#eef3f8"/>
<rect x="-38" y="-26" width="16" height="52" fill="#7d868e"/>
<rect x="-282" y="-52" width="16" height="104" rx="7" fill="#e6eaee" stroke="#c5cbd2" stroke-width="5"/>
<rect x="-345" y="-10" width="65" height="20" fill="#e6eaee" stroke="#c5cbd2" stroke-width="5"/>
<rect x="-360" y="-32" width="16" height="64" rx="7" fill="#e6eaee" stroke="#c5cbd2" stroke-width="5"/>
</g>
</g>
</svg>
</body></html>
